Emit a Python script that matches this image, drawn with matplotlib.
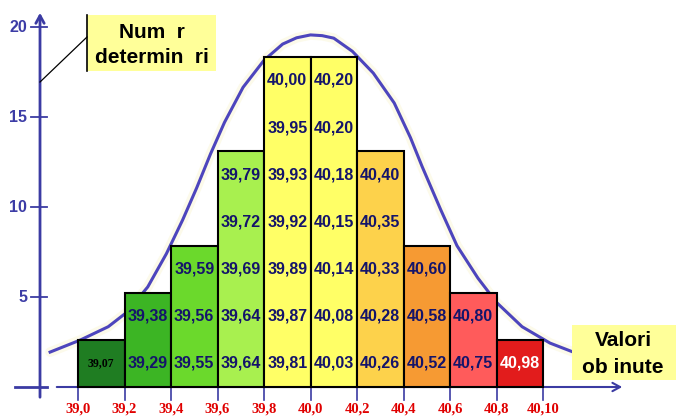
import matplotlib.pyplot as plt
from matplotlib.patches import Rectangle

# bin edges (class limits) and their printed labels
bin_edges = [39.0, 39.2, 39.4, 39.6, 39.8, 40.0, 40.2, 40.4, 40.6, 40.8, 41.0]
edge_labels = ['39,0', '39,2', '39,4', '39,6', '39,8', '40,0',
               '40,2', '40,4', '40,6', '40,8', '40,10']

# measured values in each class, bottom to top
bin_values = [
    ['39,07'],
    ['39,29', '39,38'],
    ['39,55', '39,56', '39,59'],
    ['39,64', '39,64', '39,69', '39,72', '39,79'],
    ['39,81', '39,87', '39,89', '39,92', '39,93', '39,95', '40,00'],
    ['40,03', '40,08', '40,14', '40,15', '40,18', '40,20', '40,20'],
    ['40,26', '40,28', '40,33', '40,35', '40,40'],
    ['40,52', '40,58', '40,60'],
    ['40,75', '40,80'],
    ['40,98'],
]
bar_colors = ['#1f7d22', '#3cb524', '#6bd92c', '#a8f04f', '#ffff66',
              '#ffff66', '#fdd24b', '#f69a33', '#ff5b5b', '#e21c1c']

y_ticks = [5, 10, 15, 20]

# bell curve
curve_x = [38.88, 39.01, 39.13, 39.21, 39.30, 39.38, 39.45, 39.51, 39.57,
           39.63, 39.71, 39.80, 39.88, 39.94, 40.00, 40.05, 40.10, 40.18,
           40.27, 40.36, 40.43, 40.48, 40.56, 40.63, 40.72, 40.80, 40.91,
           41.03, 41.13]
curve_y = [1.94, 2.61, 3.35, 4.15, 5.56, 7.40, 9.28, 11.05, 12.95,
           14.70, 16.65, 18.15, 19.05, 19.40, 19.56, 19.52, 19.38, 18.65,
           17.44, 15.78, 13.85, 12.25, 9.85, 7.85, 6.05, 4.70, 3.35,
           2.44, 1.94]

cell_h = 2.62           # height of one measurement in y units
axis_col = '#3b3ba3'
text_col = '#14146a'
sans = 'Liberation Sans'
serif = 'Liberation Serif'

fig = plt.figure(figsize=(6.76, 4.16), dpi=100)
ax = fig.add_axes([0, 0, 1, 1])
ax.set_xlim(38.6645, 41.572)
ax.set_ylim(-1.611, 21.5)
ax.axis('off')


def px(x, y):
    # picture pixel -> data coords, for the decorations only
    return 39.0 + (x - 78) / 232.5, (387 - y) / 18.0


# curve behind the bars
ax.plot(curve_x, curve_y, color='#fcfaea', lw=7, solid_capstyle='round', zorder=1)
ax.plot(curve_x, curve_y, color='#4d45bd', lw=2.2, solid_joinstyle='round', zorder=2)

# bars with the values written in
for i, vals in enumerate(bin_values):
    x0 = bin_edges[i]
    w = bin_edges[i + 1] - x0
    ax.add_patch(Rectangle((x0, 0), w, len(vals) * cell_h, facecolor=bar_colors[i],
                           edgecolor='black', lw=1.5, zorder=3))
    for j, v in enumerate(vals):
        if i == 0:
            ax.text(x0 + w / 2, (j + 0.5) * cell_h, v, ha='center', va='center',
                    fontsize=8.5, fontweight='bold', family=serif, color='black', zorder=4)
        else:
            c = 'white' if i == len(bin_values) - 1 else text_col
            ax.text(x0 + w / 2, (j + 0.5) * cell_h, v, ha='center', va='center',
                    fontsize=11.5, fontweight='bold', family=sans, color=c, zorder=4)

# y axis
xa, yb = px(40, 400)
_, yt = px(40, 10)
ax.annotate('', xy=(xa, yt), xytext=(xa, yb),
            arrowprops=dict(arrowstyle='->,head_length=0.55,head_width=0.3',
                            color=axis_col, lw=2), zorder=5)
t0, _ = px(31, 0)
t1, _ = px(47, 0)
for t in y_ticks:
    ax.plot([t0, t1], [t, t], color=axis_col, lw=1.3, zorder=5)
    ax.text(px(27, 0)[0], t, str(t), ha='right', va='center', fontsize=11.5,
            fontweight='bold', family=sans, color='#3c3ca6')
b0, _ = px(15, 0)
ax.plot([b0, t1], [0, 0], color=axis_col, lw=2, zorder=5)

# x axis
xs, _ = px(54, 0)
xe, _ = px(625, 0)
ax.annotate('', xy=(xe, 0), xytext=(xs, 0),
            arrowprops=dict(arrowstyle='->,head_length=0.55,head_width=0.3',
                            color=axis_col, lw=1.5), zorder=2)
_, yd = px(0, 400)
_, yl = px(0, 409)
for e, lab in zip(bin_edges, edge_labels):
    ax.plot([e, e], [0, yd], color=axis_col, lw=1.2, zorder=2)
    ax.text(e, yl, lab, ha='center', va='center', fontsize=10.5, fontweight='bold',
            family=serif, color='#e00000')

# label boxes
bx0, by0 = px(87, 71)
bx1, by1 = px(216, 15)
ax.add_patch(Rectangle((bx0, by0), bx1 - bx0, by1 - by0, facecolor='#ffff99',
                       edgecolor='none', zorder=6))
ax.plot([bx0, bx0], [by0, by1], color='black', lw=1.2, zorder=7)
d0 = px(87, 37)
d1 = px(40, 82)
ax.plot([d0[0], d1[0]], [d0[1], d1[1]], color='black', lw=0.9, zorder=7)
cx, _ = px(152, 0)
ax.text(cx, px(0, 32)[1], 'Num  r', ha='center', va='center', fontsize=15,
        fontweight='bold', family=sans, color='black', zorder=8)
ax.text(cx, px(0, 57)[1], 'determin  ri', ha='center', va='center', fontsize=15,
        fontweight='bold', family=sans, color='black', zorder=8)

vx0, vy0 = px(572, 380)
vx1, vy1 = px(676, 325)
ax.add_patch(Rectangle((vx0, vy0), vx1 - vx0, vy1 - vy0, facecolor='#ffff99',
                       edgecolor='none', zorder=6))
cx, _ = px(623, 0)
ax.text(cx, px(0, 340)[1], 'Valori', ha='center', va='center', fontsize=15,
        fontweight='bold', family=sans, color='black', zorder=8)
ax.text(cx, px(0, 367)[1], 'ob inute', ha='center', va='center', fontsize=15,
        fontweight='bold', family=sans, color='black', zorder=8)

fig.savefig('out.png', dpi=100)
